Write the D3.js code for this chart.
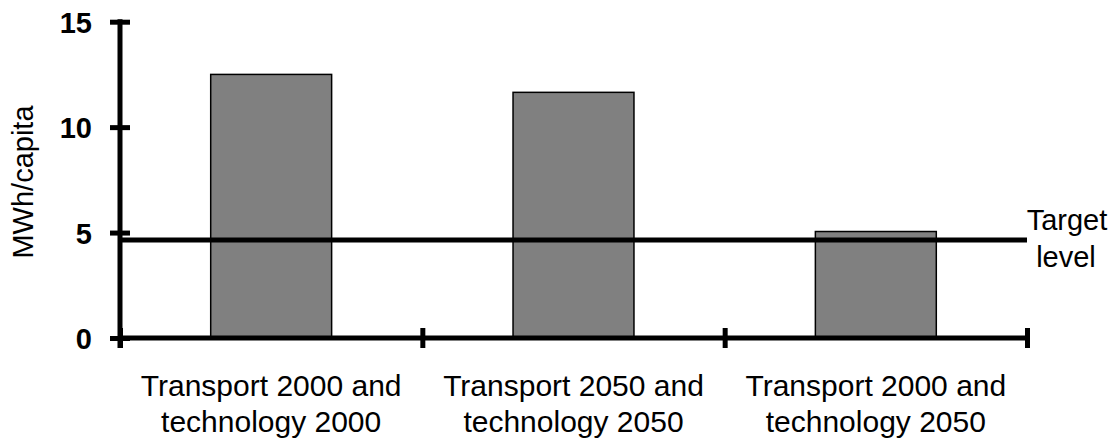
<!DOCTYPE html>
<html>
<head>
<meta charset="utf-8">
<script src="https://cdn.jsdelivr.net/npm/d3@7"></script>
<style>
  body { margin: 0; background: #fff; }
  svg { display: block; font-family: "Liberation Sans", Arial, sans-serif; }
</style>
</head>
<body>
<div id="chart"></div>
<script>
// data
var categories = [
  ["Transport 2000 and", "technology 2000"],
  ["Transport 2050 and", "technology 2050"],
  ["Transport 2000 and", "technology 2050"]
];
var values = [12.5, 11.65, 5.05];
var targetLevel = 4.65;
var yTicks = [0, 5, 10, 15];

var svgWidth = 1120;
var svgHeight = 446;

var x0 = 120, x1 = 1027;
var yBottom = 338, yTop = 21.7;

var svg = d3.select("#chart")
  .append("svg")
  .attr("width", svgWidth)
  .attr("height", svgHeight);

var keys = categories.map(function(c, i) { return i; });

var xBand = d3.scaleBand()
  .domain(keys)
  .range([x0, x1])
  .paddingInner(0.6)
  .paddingOuter(0.3);

// boundary scale for the x tick marks
var xEdge = d3.scaleLinear()
  .domain([0, categories.length])
  .range([x0, x1]);

var y = d3.scaleLinear()
  .domain([0, 15])
  .range([yBottom, yTop]);

// bars
svg.append("g").selectAll("rect")
  .data(values)
  .enter()
  .append("rect")
  .attr("x", function(d, i) { return xBand(i); })
  .attr("width", xBand.bandwidth())
  .attr("y", function(d) { return y(d); })
  .attr("height", function(d) { return y(0) - y(d); })
  .attr("fill", "#808080")
  .attr("stroke", "#000")
  .attr("stroke-width", 1.5);

// y axis
var leftAxis = d3.axisLeft(y)
  .tickValues(yTicks)
  .tickSize(10)
  .tickFormat(d3.format("d"));

var yAxis = svg.append("g")
  .attr("transform", "translate(" + x0 + ",0)")
  .call(leftAxis);
yAxis.select(".domain").remove();
yAxis.selectAll(".tick line")
  .attr("x1", -10).attr("x2", 10)
  .attr("stroke", "#000").attr("stroke-width", 5);
yAxis.selectAll(".tick text")
  .attr("x", -28)
  .attr("dy", "0.36em")
  .attr("fill", "#000")
  .style("font-size", "29px")
  .style("font-weight", "bold")
  .style("font-family", "'Liberation Sans', Arial, sans-serif");
yAxis.append("line")
  .attr("x1", 0).attr("x2", 0)
  .attr("y1", y(15) - 2.5).attr("y2", y(0) + 10)
  .attr("stroke", "#000").attr("stroke-width", 5);

// x axis
var bottomAxis = d3.axisBottom(xEdge)
  .tickValues(d3.range(categories.length + 1))
  .tickSize(10)
  .tickFormat("");

var xAxis = svg.append("g")
  .attr("transform", "translate(0," + y(0) + ")")
  .call(bottomAxis);
xAxis.select(".domain").remove();
xAxis.selectAll(".tick line")
  .attr("y1", -10).attr("y2", 10)
  .attr("stroke", "#000").attr("stroke-width", 5);
xAxis.append("line")
  .attr("x1", x0).attr("x2", x1)
  .attr("y1", 0).attr("y2", 0)
  .attr("stroke", "#000").attr("stroke-width", 5);

// category labels
var labels = svg.append("g").selectAll("text")
  .data(categories)
  .enter()
  .append("text")
  .attr("text-anchor", "middle")
  .attr("x", function(d, i) { return xBand(i) + xBand.bandwidth() / 2; })
  .attr("y", 396)
  .style("font-size", "30px")
  .attr("fill", "#000");
labels.selectAll("tspan")
  .data(function(d) { return d; })
  .enter()
  .append("tspan")
  .attr("x", function() { return d3.select(this.parentNode).attr("x"); })
  .attr("dy", function(d, i) { return i === 0 ? 0 : 36; })
  .text(function(d) { return d; });

// target line
svg.append("line")
  .attr("x1", x0).attr("x2", x1)
  .attr("y1", y(targetLevel)).attr("y2", y(targetLevel))
  .attr("stroke", "#000").attr("stroke-width", 5);

var tgt = svg.append("text")
  .attr("text-anchor", "middle")
  .attr("x", 1067)
  .attr("y", 230)
  .style("font-size", "29px")
  .attr("fill", "#000");
tgt.append("tspan").attr("x", 1067).text("Target");
tgt.append("tspan").attr("x", 1066).attr("dy", 37).text("level");

// y axis title
svg.append("text")
  .attr("transform", "translate(33,182) rotate(-90)")
  .attr("text-anchor", "middle")
  .style("font-size", "29px")
  .attr("fill", "#000")
  .text("MWh/capita");
</script>
</body>
</html>
